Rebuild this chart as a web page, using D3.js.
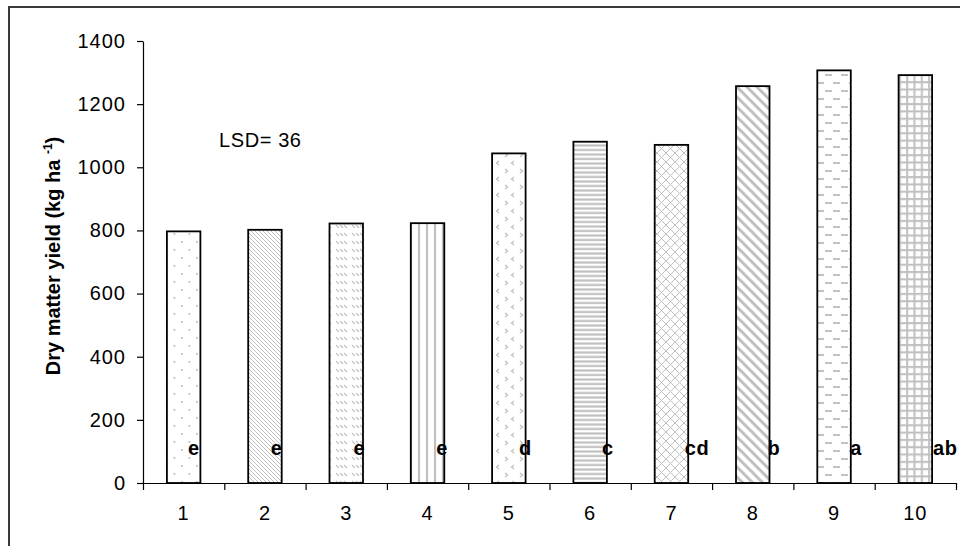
<!DOCTYPE html>
<html>
<head>
<meta charset="utf-8">
<script src="https://cdn.jsdelivr.net/npm/d3@7"></script>
<style>
    html, body { margin: 0; padding: 0; background: #fff; }
    svg { display: block; }
    text { font-family: Arial, "Liberation Sans", sans-serif; fill: #000; }
</style>
</head>
<body>
<div id="chart"></div>
<script>
// Dry matter yield per treatment

const categories = ['1', '2', '3', '4', '5', '6', '7', '8', '9', '10'];
const yields = [797, 802, 822, 823, 1044, 1081, 1071, 1257, 1307, 1292];
const groupLetters = ['e', 'e', 'e', 'e', 'd', 'c', 'cd', 'b', 'a', 'ab'];
const yTicks = [0, 200, 400, 600, 800, 1000, 1200, 1400];
const fills = ['dots', 'fineDiag', 'dashDiag', 'vertical', 'zigzag',
               'horizontal', 'crossDiag', 'wideDiag', 'dashHoriz', 'grid'];

const width = 960, height = 546;
const plot = { left: 143, right: 956, top: 41, bottom: 483 };
const hatch = '#c0c0c0';

const svg = d3.select('#chart').append('svg')
    .attr('width', width)
    .attr('height', height);

// Fill patterns
const defs = svg.append('defs');

function pattern(id, w, h) {
    return defs.append('pattern')
        .attr('id', id)
        .attr('patternUnits', 'userSpaceOnUse')
        .attr('width', w)
        .attr('height', h);
}

function addPath(p, d, sw) {
    p.append('path').attr('d', d).attr('fill', 'none')
        .attr('stroke', hatch).attr('stroke-width', sw);
}

let p = pattern('dots', 15, 16);
p.append('rect').attr('x', 1).attr('y', 1).attr('width', 1.8).attr('height', 1.8).attr('fill', hatch);
p.append('rect').attr('x', 8.5).attr('y', 9).attr('width', 1.8).attr('height', 1.8).attr('fill', hatch);

p = pattern('fineDiag', 4, 4);
addPath(p, 'M-1,-1 L5,5 M-1,3 L1,5 M3,-1 L5,1', 1);

p = pattern('dashDiag', 16, 8);
addPath(p, 'M0,1 L3,4 M4,1 L7,4 M8,1 L11,4', 1.1);

p = pattern('vertical', 8, 8);
addPath(p, 'M3,0 L3,8', 2.2);

p = pattern('zigzag', 15, 16);
addPath(p, 'M4,1 L1.5,3 L4,5', 1.3);
addPath(p, 'M10,9 L12.5,11 L10,13', 1.3);

p = pattern('horizontal', 8, 4.5);
addPath(p, 'M0,1.5 L8,1.5', 2.2);

p = pattern('crossDiag', 9, 9);
addPath(p, 'M0,0 L9,9 M9,0 L0,9', 1);

p = pattern('wideDiag', 10, 10);
addPath(p, 'M-2,-2 L12,12 M-2,8 L2,12 M8,-2 L12,2', 3);

p = pattern('dashHoriz', 16, 16);
addPath(p, 'M1,3 L8,3', 2);
addPath(p, 'M9,11 L16,11', 2);

p = pattern('grid', 7.3, 7.3);
addPath(p, 'M2,0 L2,7.3 M0,2 L7.3,2', 2);

// Outer frame
svg.append('rect')
    .attr('x', 9).attr('y', 7)
    .attr('width', 1000).attr('height', 600)
    .attr('fill', 'none')
    .attr('stroke', '#3a3a3a')
    .attr('stroke-width', 2);

// Scales
const x = d3.scaleBand()
    .domain(categories)
    .range([plot.left, plot.right])
    .paddingInner(0.588)
    .paddingOuter(0.294);

const slot = d3.scaleLinear()
    .domain([0, categories.length])
    .range([plot.left, plot.right]);

const y = d3.scaleLinear()
    .domain([0, 1400])
    .range([plot.bottom, plot.top]);

// Label positions for the significance letters
const letterX = d3.scaleLinear()
    .domain([0, categories.length - 1])
    .range([188, 933]);

// Bars
svg.append('g')
    .selectAll('rect')
    .data(yields)
    .enter().append('rect')
    .attr('x', (d, i) => x(categories[i]))
    .attr('y', d => y(d))
    .attr('width', x.bandwidth())
    .attr('height', d => y(0) - y(d))
    .attr('fill', (d, i) => `url(#${fills[i]})`)
    .attr('stroke', '#000')
    .attr('stroke-width', 1.8);

// Y axis
const yAxis = svg.append('g')
    .attr('transform', `translate(${plot.left},0)`)
    .call(d3.axisLeft(y).tickValues(yTicks).tickFormat(d3.format('d'))
        .tickSize(6).tickSizeOuter(0).tickPadding(11));

yAxis.selectAll('text')
    .style('font-size', '20px')
    .style('letter-spacing', '1px');

// X axis: boundary ticks and category labels
svg.append('g')
    .attr('transform', `translate(0,${plot.bottom})`)
    .call(d3.axisBottom(slot).tickValues(d3.range(categories.length + 1))
        .tickSize(7).tickSizeOuter(0).tickFormat(''));

const xLabels = svg.append('g')
    .attr('transform', `translate(0,${plot.bottom})`)
    .call(d3.axisBottom(x).tickSize(0).tickPadding(23));

xLabels.select('.domain').remove();
xLabels.selectAll('text')
    .style('font-size', '20px')
    .style('letter-spacing', '1px');

svg.selectAll('.domain, .tick line')
    .attr('stroke', '#000')
    .attr('stroke-width', 1.2);

// Significance letters
svg.append('g')
    .selectAll('text')
    .data(groupLetters)
    .enter().append('text')
    .attr('x', (d, i) => letterX(i))
    .attr('y', y(88))
    .style('font-size', '20px')
    .style('font-weight', 'bold')
    .style('letter-spacing', '0.6px')
    .text(d => d);

// LSD annotation
svg.append('text')
    .attr('x', 219)
    .attr('y', 147)
    .style('font-size', '20px')
    .style('letter-spacing', '0.6px')
    .text('LSD= 36');

// Y axis title
const title = svg.append('text')
    .attr('transform', 'translate(60,256) rotate(-90)')
    .attr('text-anchor', 'middle')
    .style('font-size', '20px')
    .style('font-weight', 'bold');

title.append('tspan').text('Dry matter yield (kg ha ');
title.append('tspan').attr('dy', -8).style('font-size', '12px').text('-1');
title.append('tspan').attr('dy', 8).text(')');
</script>
</body>
</html>
